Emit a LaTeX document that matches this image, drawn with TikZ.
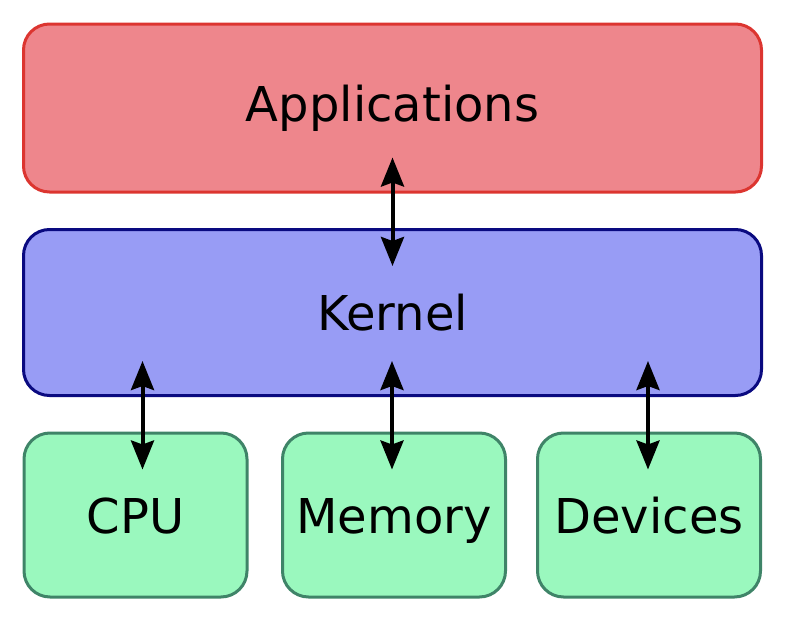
\documentclass[tikz,border=0pt]{standalone}
\usepackage{fontspec}
\setmainfont{DejaVu Sans}
\usepackage{xcolor}
\usetikzlibrary{arrows.meta}
\definecolor{appfill}{HTML}{EE868C}
\definecolor{appdraw}{HTML}{DC3530}
\definecolor{kernfill}{HTML}{989CF5}
\definecolor{kerndraw}{HTML}{0A0A80}
\definecolor{hwfill}{HTML}{9AF8BE}
\definecolor{hwdraw}{HTML}{3F8468}

\begin{document}
\begin{tikzpicture}[x=1pt,y=-1pt,
    layer/.style={draw,rounded corners=26pt,line width=3pt,inner sep=0pt,
      font=\fontsize{48}{58}\selectfont},
    hw/.style={layer,fill=hwfill,draw=hwdraw,minimum width=223pt,
      minimum height=164pt,text height=36pt,text depth=0pt},
    link/.style={{Stealth[length=29pt,width=23pt,inset=4pt]}-{Stealth[length=29pt,width=23pt,inset=4pt]},
      line width=4pt,shorten <=-36pt,shorten >=-38pt}]
    \useasboundingbox (0,0) rectangle (788,624);
    \node[layer,fill=appfill,draw=appdraw,minimum width=738pt,minimum height=168pt]
      (app) at (392.5,108) {Applications};
    \node[layer,fill=kernfill,draw=kerndraw,minimum width=738pt,minimum height=166pt]
      (kernel) at (392.5,312.5) {Kernel};
    \node[hw] (cpu) at (135.5,515) {CPU};
    \node[hw] (mem) at (394,515) {Memory};
    \node[hw] (dev) at (649,515) {Devices};
    \draw[link] (app.south) -- (kernel.north);
    \foreach \n/\dx in {cpu/7,mem/-2,dev/-1}
    {
      \draw[link] ([xshift=\dx pt]kernel.south -| \n.north) -- ([xshift=\dx pt]\n.north);
    }
\end{tikzpicture}
\end{document}
